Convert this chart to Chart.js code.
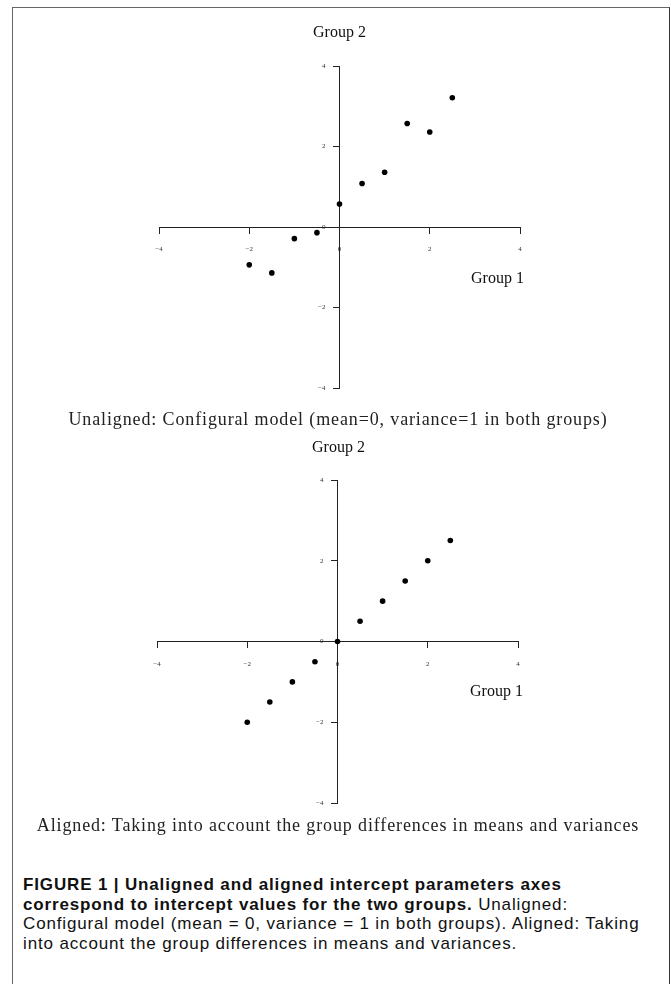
<!DOCTYPE html>
<html>
<head>
<meta charset="utf-8">
<script src="https://cdn.jsdelivr.net/npm/chart.js@4"></script>
<style>
  body { margin: 0; background: #fff; }
  #page { position: relative; width: 671px; height: 984px; overflow: hidden; }
  #frame { position: absolute; left: 12px; top: 7px; width: 656px; height: 1000px; border: 1px solid #666; border-right-color: #333; }
  canvas { position: absolute; left: 0; }
  .lbl { position: absolute; font-family: "Liberation Serif", serif; font-size: 16px; line-height: 16px; color: #111; white-space: nowrap; }
  .cap { position: absolute; left: 0; width: 676px; text-align: center; font-family: "Liberation Serif", serif; font-size: 18px; letter-spacing: 0.87px; line-height: 20px; color: #222; white-space: nowrap; }
  #legend { position: absolute; left: 23px; top: 875px; font-family: "Liberation Sans", Arial, sans-serif; font-size: 17px; letter-spacing: 0.85px; line-height: 19.7px; color: #111; white-space: nowrap; }
  #legend b { font-weight: bold; }
</style>
</head>
<body>
<div id="page">
  <div id="frame"></div>
  <canvas id="top" width="671" height="400" style="top:0"></canvas>
  <canvas id="bottom" width="671" height="420" style="top:400px"></canvas>

  <div class="lbl" style="left:313px; top:24px">Group 2</div>
  <div class="lbl" style="left:471px; top:270px">Group 1</div>
  <div class="cap" style="top:409px">Unaligned: Configural model (mean=0, variance=1 in both groups)</div>

  <div class="lbl" style="left:312px; top:439px">Group 2</div>
  <div class="lbl" style="left:470px; top:683px">Group 1</div>
  <div class="cap" style="top:815px">Aligned: Taking into account the group differences in means and variances</div>

  <div id="legend"><b>FIGURE 1 | Unaligned and aligned intercept parameters axes<br>correspond to intercept values for the two groups.</b> Unaligned:<br>Configural model (mean = 0, variance = 1 in both groups). Aligned: Taking<br>into account the group differences in means and variances.</div>
</div>
<script>
// group 1 intercepts (x) and group 2 intercepts (y)
const group1 = [-2, -1.5, -1, -0.5, 0, 0.5, 1, 1.5, 2, 2.5];
const unalignedGroup2 = [-0.94, -1.14, -0.29, -0.14, 0.57, 1.08, 1.36, 2.57, 2.36, 3.21];
const alignedGroup2 = [-2, -1.5, -1, -0.5, 0, 0.5, 1, 1.5, 2, 2.5];
const axisMin = -4;
const axisMax = 4;
const axisStep = 2;

const tickFont = { family: 'Liberation Serif', size: 7 };
const tickColor = '#333';

function toPoints(xs, ys) {
	return xs.map((x, i) => ({ x: x, y: ys[i] }));
}

function tickLabel(v) {
	return v < 0 ? '\u2212' + Math.abs(v) : String(v);
}

// y labels of a centred axis don't show up, so draw them from the scale ticks
const yLabels = {
	id: 'yLabels',
	afterDraw(chart) {
		const ctx = chart.ctx;
		const ys = chart.scales.y;
		const x0 = chart.scales.x.getPixelForValue(0);
		ctx.save();
		ctx.fillStyle = tickColor;
		ctx.font = tickFont.size + 'px "' + tickFont.family + '"';
		ctx.textAlign = 'right';
		ctx.textBaseline = 'middle';
		ys.ticks.forEach((t) => {
			ctx.fillText(tickLabel(t.value), x0 - 6 - 8, ys.getPixelForValue(t.value));
		});
		ctx.restore();
	},
};

function axis(pos, padding, showLabels) {
	return {
		type: 'linear',
		min: axisMin,
		max: axisMax,
		position: pos,
		grid: { display: true, drawOnChartArea: false, drawTicks: true, tickLength: 6, color: '#222', lineWidth: 1 },
		border: { display: true, color: '#222', width: 1 },
		ticks: {
			display: showLabels,
			stepSize: axisStep,
			padding: padding,
			color: tickColor,
			font: tickFont,
			callback: tickLabel,
		},
	};
}

function makeChart(id, ys, padding) {
	return new Chart(document.getElementById(id), {
		type: 'scatter',
		data: {
			datasets: [{
				data: toPoints(group1, ys),
				backgroundColor: '#000',
				borderWidth: 0,
				pointRadius: 2.8,
				clip: false,
			}],
		},
		options: {
			responsive: false,
			animation: false,
			layout: { padding: padding },
			plugins: { legend: { display: false }, tooltip: { enabled: false } },
			scales: {
				x: axis({ y: 0 }, 12, true),
				y: axis({ x: 0 }, 8, false),
			},
		},
		plugins: [yLabels],
	});
}

makeChart('top', unalignedGroup2, { left: 159, right: 151, top: 66, bottom: 12 });
makeChart('bottom', alignedGroup2, { left: 157, right: 153, top: 80, bottom: 17 });
</script>
</body>
</html>
